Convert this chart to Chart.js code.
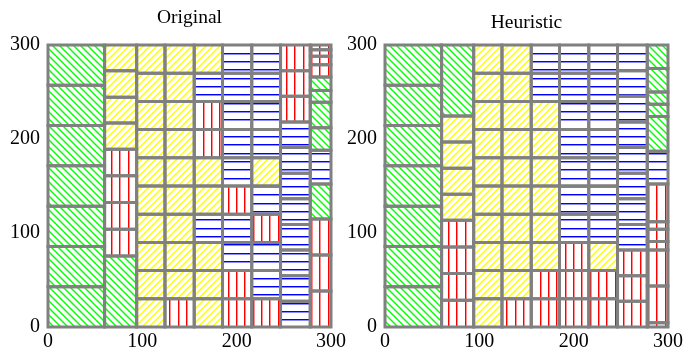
<!DOCTYPE html>
<html>
<head>
<meta charset="utf-8">
<script src="https://cdn.jsdelivr.net/npm/chart.js@4/dist/chart.umd.min.js"></script>
<style>
  body { margin: 0; background: #fff; }
  canvas { position: absolute; top: 0; }
  #orig { left: 0; }
  #heur { left: 337px; }
</style>
</head>
<body>
<canvas id="orig" width="349" height="351"></canvas>
<canvas id="heur" width="349" height="351"></canvas>
<script>
// column edges (x) shared by both packings
const columnEdges = [0, 60, 94, 124, 155, 185, 216, 246.5, 278, 300];

// Original packing: per column, cell breaks from bottom to top and the fill of each cell
// G = green \\\, Y = yellow ///, R = red |||, B = blue ===
const originalBreaks = [
  [0, 42.86, 85.71, 128.57, 171.43, 214.29, 257.14, 300],
  [0, 75.5, 104, 132.5, 161, 189, 217, 244.5, 272.5, 300],
  [0, 30, 60, 90, 120, 150, 180, 210, 240, 270, 300],
  [0, 30, 60, 90, 120, 150, 180, 210, 240, 270, 300],
  [0, 30, 60, 90, 120, 150, 180, 210, 240, 270, 300],
  [0, 30, 60, 90, 120, 150, 180, 210, 240, 270, 300],
  [0, 30, 60, 90, 120, 150, 180, 210, 240, 270, 300],
  [0, 27.3, 54.5, 81.8, 109.1, 136.4, 163.6, 190.9, 218.2, 245.5, 272.7, 300],
  [0, 38.3, 76.7, 115, 152, 188, 212, 239, 251.5, 266, 279, 288, 295, 300]
];
const originalFills = [
  'GGGGGGG',
  'GRRRRYYYY',
  'YYYYYYYYYY',
  'RYYYYYYYYY',
  'YYYBYYRRBY',
  'RRBBRBBBBB',
  'RBBRBYBBBB',
  'BBBBBBBBRRR',
  'RRRGBGGGGRRRR'
];

// Heuristic packing
const heuristicBreaks = [
  [0, 42.86, 85.71, 128.57, 171.43, 214.29, 257.14, 300],
  [0, 28.4, 56.8, 85.2, 113.6, 141.3, 169, 196.7, 224.4, 300],
  [0, 30, 60, 90, 120, 150, 180, 210, 240, 270, 300],
  [0, 30, 60, 90, 120, 150, 180, 210, 240, 270, 300],
  [0, 30, 60, 90, 120, 150, 180, 210, 240, 270, 300],
  [0, 30, 60, 90, 120, 150, 180, 210, 240, 270, 300],
  [0, 30, 60, 90, 120, 150, 180, 210, 240, 270, 300],
  [0, 27.3, 54.5, 81.8, 109.1, 136.4, 163.6, 190.9, 218.2, 245.5, 272.7, 300],
  [0, 4.6, 43.6, 82, 91, 104, 112, 152, 187, 224, 237, 250, 275, 300]
];
const heuristicFills = [
  'GGGGGGG',
  'RRRRYYYYG',
  'YYYYYYYYYY',
  'RYYYYYYYYY',
  'RRYYYYYYBB',
  'RRRBBBBBBB',
  'RRYBBBBBBB',
  'RRRBBBBBBBB',
  'RRRRRRRBGGGGG'
];

const tickValues = [0, 100, 200, 300];

function makePattern(kind) {
  const c = document.createElement('canvas');
  const s = (kind === 'R' || kind === 'B') ? 25 : 7;
  c.width = s; c.height = s;
  const ctx = c.getContext('2d');
  ctx.fillStyle = '#ffffff';
  ctx.fillRect(0, 0, s, s);
  if (kind === 'R' || kind === 'B') {
    const strong = kind === 'R' ? '#ff0000' : '#0000ff';
    const soft = kind === 'R' ? '#ff8c8c' : '#8c8cff';
    [3, 11, 19].forEach(p => {
      if (kind === 'R') {
        ctx.fillStyle = strong; ctx.fillRect(p, 0, 1, s);
        ctx.fillStyle = soft; ctx.fillRect(p + 1, 0, 1, s);
      } else {
        ctx.fillStyle = strong; ctx.fillRect(0, p, s, 1);
        ctx.fillStyle = soft; ctx.fillRect(0, p + 1, s, 1);
      }
    });
    return ctx.createPattern(c, 'repeat');
  }
  ctx.beginPath();
  if (kind === 'G') {
    ctx.strokeStyle = '#00ff00';
    ctx.lineWidth = 1.4;
    ctx.moveTo(-1, -1); ctx.lineTo(s + 1, s + 1);
    ctx.moveTo(-1, s - 1); ctx.lineTo(1, s + 1);
    ctx.moveTo(s - 1, -1); ctx.lineTo(s + 1, 1);
  } else {
    ctx.strokeStyle = '#ffff00';
    ctx.lineWidth = 1.5;
    ctx.moveTo(-1, s + 1); ctx.lineTo(s + 1, -1);
    ctx.moveTo(-1, 1); ctx.lineTo(1, -1);
    ctx.moveTo(s - 1, s + 1); ctx.lineTo(s + 1, s - 1);
  }
  ctx.stroke();
  return ctx.createPattern(c, 'repeat');
}

function buildDatasets(breaks, fills) {
  const patterns = { G: makePattern('G'), Y: makePattern('Y'), R: makePattern('R'), B: makePattern('B') };
  const datasets = [];
  breaks.forEach((ys, col) => {
    const x0 = columnEdges[col], x1 = columnEdges[col + 1];
    for (let i = 0; i < ys.length - 1; i++) {
      const y0 = ys[i], y1 = ys[i + 1];
      datasets.push({
        data: [{x: x0, y: y0}, {x: x1, y: y0}, {x: x1, y: y1}, {x: x0, y: y1}, {x: x0, y: y0}],
        backgroundColor: patterns[fills[col][i]],
        borderColor: '#808080',
        borderWidth: 3,
        borderJoinStyle: 'miter',
        borderCapStyle: 'square',
        fill: 'shape',
        pointRadius: 0,
        tension: 0,
        clip: false
      });
    }
  });
  return datasets;
}

Chart.defaults.font.family = "'Liberation Serif', 'Times New Roman', serif";
Chart.defaults.font.size = 20;
Chart.defaults.color = '#000';

function drawPacking(id, title, titleTop, breaks, fills) {
  return new Chart(document.getElementById(id), {
    type: 'line',
    data: { datasets: buildDatasets(breaks, fills) },
    options: {
      responsive: false,
      animation: false,
      events: [],
      layout: { padding: { left: 0, right: 18, top: 0, bottom: 0 } },
      plugins: {
        legend: { display: false },
        tooltip: { enabled: false },
        filler: { drawTime: 'beforeDatasetsDraw' },
        title: {
          display: true,
          text: title,
          fullSize: false,
          color: '#000',
          font: { size: 19.5, weight: 'normal', lineHeight: 1.2 },
          padding: { top: titleTop, bottom: 45 - 23.4 - titleTop }
        }
      },
      scales: {
        x: {
          type: 'linear', min: 0, max: 300,
          grid: { display: false, drawTicks: false }, border: { display: false },
          afterBuildTicks: s => { s.ticks = tickValues.map(v => ({ value: v })); },
          ticks: { padding: 3, maxRotation: 0, autoSkip: false },
          afterFit: s => { s.height = 24; }
        },
        y: {
          type: 'linear', min: 0, max: 300,
          grid: { display: false, drawTicks: false }, border: { display: false },
          afterBuildTicks: s => { s.ticks = tickValues.map(v => ({ value: v })); },
          ticks: { padding: 8, autoSkip: false },
          afterFit: s => { s.width = 48; }
        }
      }
    }
  });
}

drawPacking('orig', 'Original', 6, originalBreaks, originalFills);
drawPacking('heur', 'Heuristic', 10.7, heuristicBreaks, heuristicFills);
</script>
</body>
</html>
